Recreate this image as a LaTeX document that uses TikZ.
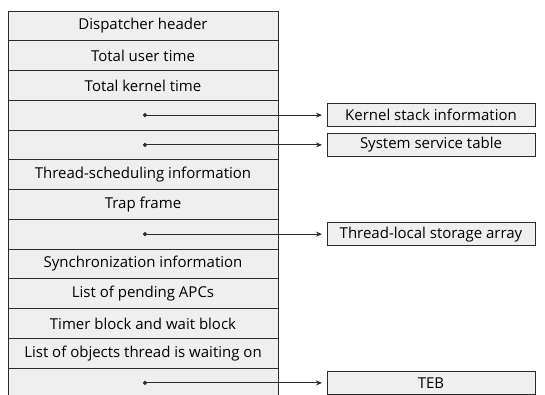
\documentclass[tikz,border=0pt]{standalone}
\usepackage{fontspec}
\setmainfont{Open Sans}
\usetikzlibrary{arrows.meta,positioning}
\definecolor{cellgray}{HTML}{EFEFEF}
\definecolor{rulegray}{HTML}{2B2B2B}

\begin{document}
\begin{tikzpicture}[x=1pt,y=-1pt,>=Stealth,node distance=0pt,font=\fontsize{15}{18}\selectfont,
  field/.style={draw=rulegray,line width=0.9pt,fill=cellgray,minimum width=270pt,minimum height=29.75pt,inner sep=0pt,outer sep=0pt},
  target/.style={draw=rulegray,line width=0.9pt,fill=cellgray,minimum width=208pt,minimum height=23pt,inner sep=0pt,outer sep=0pt},
  ptr/.style={{Circle[length=4pt]}-{Stealth[length=6pt,width=5pt]},rulegray,line width=0.9pt,shorten >=5pt}]
\useasboundingbox (0,0) rectangle (545,394);
\node[field,anchor=north] (hdr) at (143,11) {Dispatcher header};
\node[field,below=of hdr] (utime) {Total user time};
\node[field,below=of utime] (ktime) {Total kernel time};
\node[field,below=of ktime] (kstack) {};
\node[field,below=of kstack] (svc) {};
\node[field,below=of svc] (sched) {Thread-scheduling information};
\node[field,below=of sched] (trap) {Trap frame};
\node[field,below=of trap] (tls) {};
\node[field,below=of tls] (sync) {Synchronization information};
\node[field,below=of sync] (apc) {List of pending APCs};
\node[field,below=of apc] (timer) {Timer block and wait block};
\node[field,below=of timer] (wait) {List of objects thread is waiting on};
\node[field,below=of wait] (teb) {};
% targets of the pointer fields
\node[target,right=49pt of kstack] (kinfo) {Kernel stack information};
\node[target,right=49pt of svc] (svctab) {System service table};
\node[target,right=49pt of tls] (tlsarr) {Thread-local storage array};
\node[target,right=49pt of teb] (tebbox) {TEB};
\draw[ptr] (kstack.center) -- (kinfo);
\draw[ptr] (svc.center) -- (svctab);
\draw[ptr] (tls.center) -- (tlsarr);
\draw[ptr] (teb.center) -- (tebbox);
\end{tikzpicture}
\end{document}
